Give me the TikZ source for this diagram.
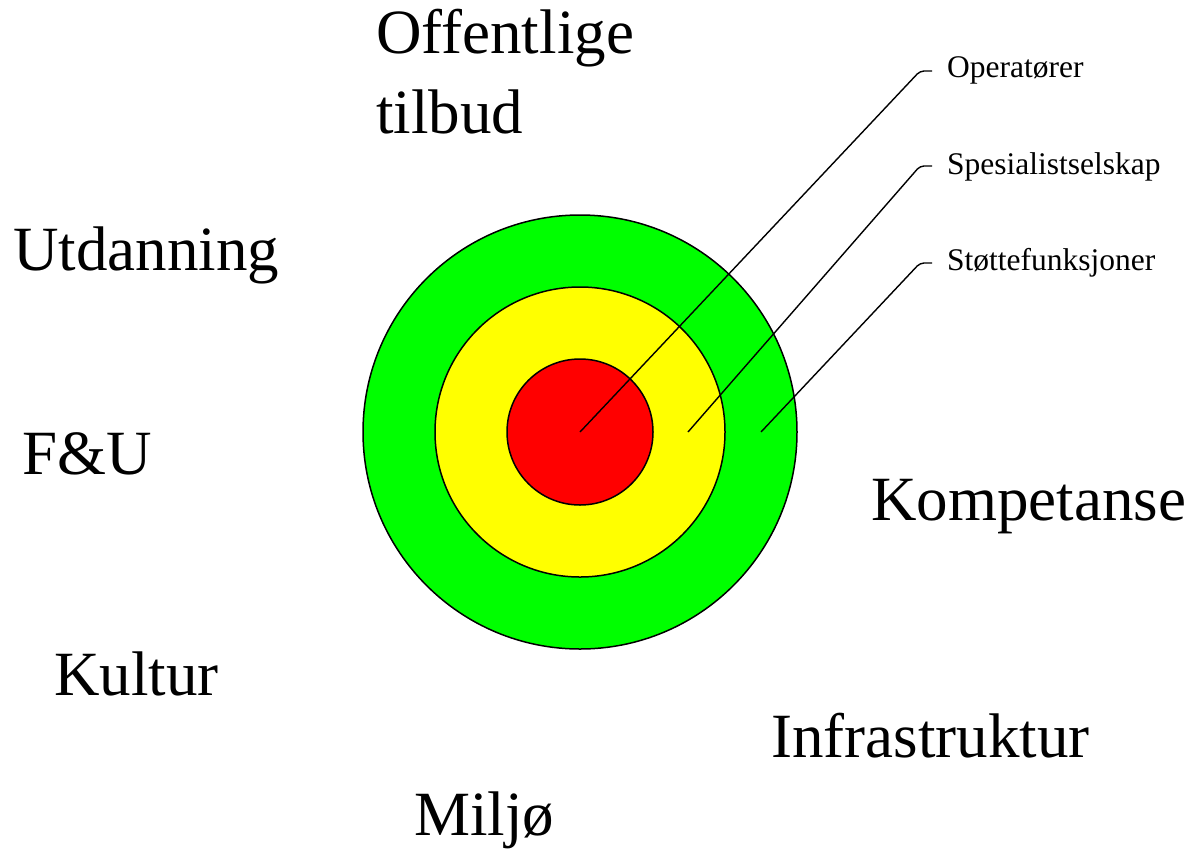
\documentclass[tikz,border=0pt]{standalone}
\usepackage{fontspec}
\setmainfont{Liberation Serif}
\begin{document}
\begin{tikzpicture}[x=1pt,y=-1pt,
  big/.style={inner sep=0pt,anchor=base west,font=\fontsize{63}{80}\selectfont},
  small/.style={inner sep=0pt,anchor=base west,font=\fontsize{31.5}{36}\selectfont},
  ring/.style={draw=black,line width=1.5pt},
  leader/.style={draw=black,line width=1.4pt,rounded corners=4pt}]
\useasboundingbox (0,0) rectangle (1193,855);
\fill[white] (0,0) rectangle (1193,855);
% rings
\node[ring,circle,fill={rgb,255:red,0;green,255;blue,0},minimum size=434pt,inner sep=0pt] (outer) at (580,432) {};
\node[ring,circle,fill={rgb,255:red,255;green,255;blue,0},minimum size=290pt,inner sep=0pt] (middle) at (580,432) {};
\node[ring,circle,fill={rgb,255:red,255;green,0;blue,0},minimum size=146pt,inner sep=0pt] (inner) at (580,432) {};
% leader anchors
\coordinate (p1) at (580,432);
\coordinate (p2) at (688,432);
\coordinate (p3) at (761,432);
\coordinate (b1) at (920,71);
\coordinate (b2) at (920,166);
\coordinate (b3) at (920,263);
% small labels
\node[small] (op) at (947,77) {Operatører};
\node[small] (sp) at (947,174) {Spesialistselskap};
\node[small] (st) at (947,270) {Støttefunksjoner};
\draw[leader] (p1) -- (b1) -- (932,71);
\draw[leader] (p2) -- (b2) -- (932,166);
\draw[leader] (p3) -- (b3) -- (932,263);
% big labels
\node[big] (off) at (376,53) {Offentlige};
\node[big] (tilb) at (376,133) {tilbud};
\node[big] (utd) at (13,270) {Utdanning};
\node[big] (fu) at (22,474) {F\&U};
\node[big] (kul) at (54,695) {Kultur};
\node[big] (komp) at (871,520) {Kompetanse};
\node[big] (infra) at (771,757) {Infrastruktur};
\node[big] (milj) at (414,835) {Miljø};
\end{tikzpicture}
\end{document}
